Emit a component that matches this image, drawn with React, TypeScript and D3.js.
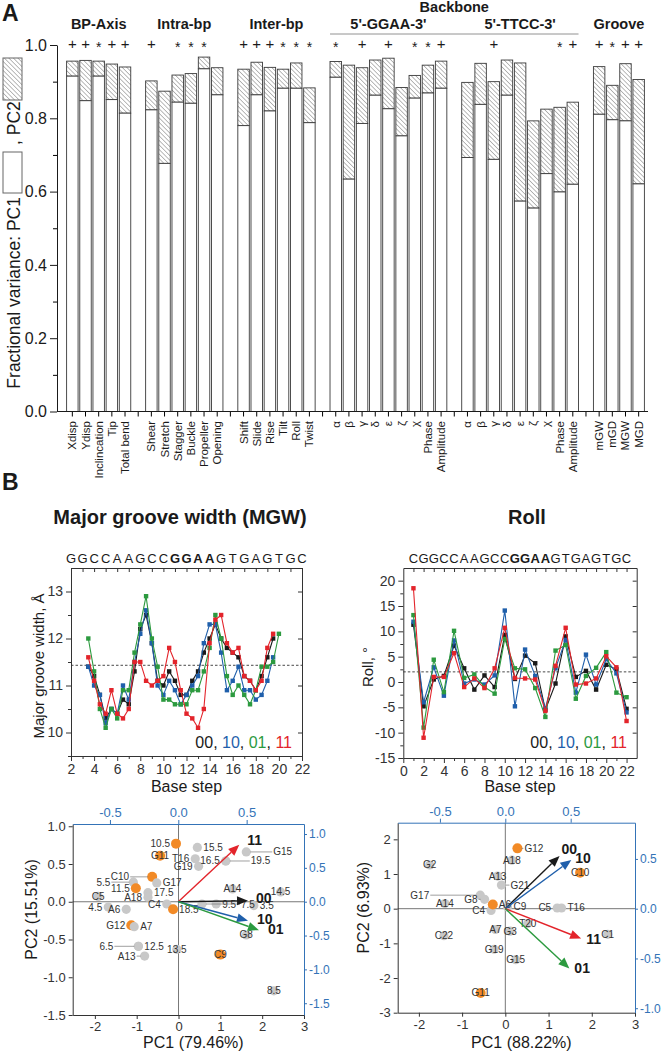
import React, { useEffect, useRef } from "react";
import * as d3 from "d3";

const FONT = "'Liberation Sans', Arial, Helvetica, sans-serif";
const AXIS_BLUE = "#3473b7";
const COLORS: Record<string, string> = { "00": "#1a1a1a", "10": "#1f5fab", "01": "#2c9a3f", "11": "#e3242b" };

// ---------- panel A: fractional variance per parameter group
const groupNames = ["BP-Axis", "Intra-bp", "Inter-bp", "5'-GGAA-3'", "5'-TTCC-3'", "Groove"];
const groupParams = [
  ["Xdisp", "Ydisp", "Inclincation", "Tip", "Total bend"],
  ["Shear", "Stretch", "Stagger", "Buckle", "Propeller", "Opening"],
  ["Shift", "Slide", "Rise", "Tilt", "Roll", "Twist"],
  ["α", "β", "γ", "δ", "ε", "ζ", "χ", "Phase", "Amplitude"],
  ["α", "β", "γ", "δ", "ε", "ζ", "χ", "Phase", "Amplitude"],
  ["mGW", "mGD", "MGW", "MGD"],
];
const groupPC1 = [
  [0.915, 0.848, 0.915, 0.851, 0.814],
  [0.823, 0.677, 0.844, 0.841, 0.935, 0.864],
  [0.78, 0.864, 0.82, 0.882, 0.882, 0.788],
  [0.912, 0.634, 0.786, 0.863, 0.826, 0.752, 0.855, 0.869, 0.882],
  [0.693, 0.838, 0.688, 0.863, 0.574, 0.555, 0.649, 0.599, 0.62],
  [0.811, 0.796, 0.793, 0.621],
];
// PC1 + PC2
const groupPC12 = [
  [0.956, 0.958, 0.956, 0.948, 0.94],
  [0.902, 0.874, 0.918, 0.922, 0.967, 0.938],
  [0.934, 0.953, 0.939, 0.934, 0.951, 0.883],
  [0.955, 0.945, 0.938, 0.959, 0.964, 0.884, 0.917, 0.945, 0.956],
  [0.898, 0.95, 0.9, 0.959, 0.951, 0.793, 0.825, 0.83, 0.844],
  [0.941, 0.89, 0.949, 0.906],
];
const groupSig = [
  ["+", "+", "*", "+", "+"],
  ["+", "", "*", "*", "*", ""],
  ["+", "+", "+", "*", "*", "*"],
  ["*", "", "+", "", "+", "", "*", "*", "+"],
  ["", "", "+", "", "", "", "", "*", "+"],
  ["+", "*", "+", "+"],
];
const yTicksA = [0, 0.2, 0.4, 0.6, 0.8, 1.0];

// ---------- panel B line charts
const mgwSeq = "GGCCAAGCCGGAAGTGAGTGC";
const rollSeq = "CGGCCAAGCCGGAAGTGAGTGC";
const mgwSteps = [3.5, 4, 4.5, 5, 5.5, 6, 6.5, 7, 7.5, 8, 8.5, 9, 9.5, 10, 10.5, 11, 11.5, 12, 12.5, 13, 13.5, 14, 14.5, 15, 15.5, 16, 16.5, 17, 17.5, 18, 18.5, 19, 19.5, 20];
const mgw00 = [11.4, 11.2, 10.8, 10.3, 10.5, 10.4, 10.7, 10.6, 11.3, 12.2, 12.5, 11.9, 11.1, 11.0, 11.3, 11.1, 10.8, 10.8, 11.1, 11.3, 11.7, 12.0, 12.3, 12.0, 11.8, 11.7, 11.6, 11.2, 11.1, 10.9, 11.2, 11.6, 12.0];
const mgw10 = [11.4, 11.0, 10.8, 10.2, 10.5, 10.4, 11.0, 10.7, 11.5, 12.1, 12.6, 11.9, 11.0, 10.8, 11.1, 10.9, 10.6, 10.8, 11.0, 11.2, 11.9, 12.3, 12.3, 11.7, 10.9, 11.1, 11.4, 10.9, 10.9, 10.7, 10.8, 11.1, 11.6];
const mgw01 = [12.0, 11.3, 10.5, 10.1, 10.5, 10.3, 10.9, 10.9, 11.7, 12.3, 12.9, 12.0, 11.4, 10.7, 10.7, 10.6, 10.6, 10.6, 10.9, 10.9, 11.3, 11.8, 12.5, 12.0, 11.2, 10.8, 11.0, 10.8, 10.6, 10.9, 11.4, 11.4, 11.5, 12.1];
const mgw11 = [11.6, 11.1, 10.6, 10.4, 10.9, 10.4, 10.3, 10.5, 11.5, 11.5, 11.1, 11.0, 11.1, 11.2, 11.8, 11.5, 10.9, 10.4, 10.3, 10.1, 10.5, 11.9, 12.4, 12.5, 11.9, 11.7, 11.8, 11.2, 11.1, 10.9, 11.1, 11.8, 12.1];
const mgwMean = 11.43;

const rollSteps = [1, 2, 3, 4, 5, 6, 7, 8, 9, 10, 11, 12, 13, 14, 15, 16, 17, 18, 19, 20, 21, 22];
const roll00 = [11.3, -4.8, 0.5, 1.2, 7.2, 2.7, -1.5, 1.3, -1.0, 9.3, 0.6, 5.2, 3.7, -5.5, -0.3, 9.0, 1.0, 2.2, -1.5, 3.4, 2.5, -5.3];
const roll10 = [11.9, -4.0, 2.9, -2.7, 8.2, -0.3, 0.5, -0.5, 1.3, 14.1, -4.8, 6.4, 1.2, -5.2, 2.7, 8.3, -2.1, 5.4, -0.5, 4.5, 1.7, -6.0];
const roll01 = [13.2, -9.0, 4.4, -2.0, 10.1, 0.8, 1.5, -1.0, -2.3, 8.5, 2.7, 2.5, -1.2, -6.9, 6.2, 7.3, -3.3, 1.2, 2.8, 5.9, -2.1, -3.0];
const roll11 = [18.5, -11.0, 1.0, 1.0, 5.7, -1.0, 0.7, -1.2, 2.7, 10.7, 0.8, 0.7, 0.5, -5.7, 3.2, 10.7, -0.5, -0.3, 0.7, 5.1, 2.9, -7.7];
const rollMean = 2.0;

// ---------- panel B biplots
const mgwPtNames = ["10.5", "G11", "15.5", "T16", "G19", "16.5", "19.5", "G15", "C10", "G17", "5.5", "11.5", "17.5", "A18", "C5", "A14", "14.5", "4.5", "A6", "C4", "18.5", "9.5", "7.5", "3.5", "G12", "A7", "G8", "6.5", "12.5", "A13", "13.5", "C9", "8.5"];
const mgwPtPC1 = [-0.06, -0.44, 0.45, 0.4, 0.48, 1.13, 1.13, 1.62, -0.63, -0.52, -1.08, -1.02, -0.73, -0.73, -1.92, 1.29, 2.44, -1.68, -1.25, -0.28, -0.13, 0.9, 0.56, 1.8, -1.13, -1.06, 1.62, -0.96, -0.96, -0.81, -0.04, 1.0, 2.28];
const mgwPtPC2 = [0.77, 0.61, 0.72, 0.57, 0.47, 0.54, 0.54, 0.66, 0.33, 0.25, 0.26, 0.18, 0.12, 0.06, 0.07, 0.17, 0.13, -0.07, -0.1, -0.03, -0.1, -0.03, -0.03, -0.05, -0.31, -0.33, -0.44, -0.59, -0.59, -0.72, -0.63, -0.7, -1.18];
const mgwPtOrange = [1, 1, 0, 0, 0, 0, 0, 0, 1, 0, 0, 1, 0, 0, 0, 0, 0, 0, 0, 0, 1, 0, 0, 0, 1, 0, 0, 0, 0, 0, 0, 1, 0];
const mgwPtPlace = ["l", "c", "r", "l", "l", "l", "R24", "R26", "L22", "r", "L22", "l", "r", "l", "c", "c", "c", "l", "l", "l", "r", "r", "R38", "r", "l", "r", "c", "L24", "r", "L8", "c", "c", "c"];
const mgwLoadNames = ["11", "00", "10", "01"];
const mgwLoadX = [0.446, 0.51, 0.51, 0.59];
const mgwLoadY = [0.84, 0.015, -0.28, -0.42];

const rollPtNames = ["G12", "A18", "G2", "A13", "G21", "C10", "G17", "G8", "A14", "C4", "A6", "C9", "C5", "T16", "T20", "A7", "G3", "C22", "C1", "G19", "G15", "G11"];
const rollPtPC1 = [0.28, 0.15, -1.75, -0.18, -0.09, 1.73, -0.58, -0.48, -1.4, -0.33, -0.29, 0.05, 1.2, 1.3, 0.52, -0.23, 0.11, -1.42, 2.37, -0.26, 0.24, -0.57];
const rollPtPC2 = [1.74, 1.4, 1.26, 0.94, 0.68, 1.04, 0.39, 0.27, 0.15, -0.05, 0.12, 0.05, 0.02, 0.02, -0.43, -0.6, -0.65, -0.78, -0.74, -1.17, -1.47, -2.43];
const rollPtOrange = [1, 0, 0, 0, 0, 1, 0, 0, 0, 0, 1, 0, 0, 0, 0, 0, 0, 0, 0, 0, 0, 1];
const rollPtPlace = ["R6", "c", "c", "c", "R8", "c", "L50", "L6", "c", "l", "r", "r", "l", "r", "c", "c", "c", "c", "c", "c", "c", "c"];
const rollLoadNames = ["00", "10", "11", "01"];
const rollLoadX = [0.415, 0.505, 0.58, 0.49];
const rollLoadY = [0.53, 0.49, -0.3, -0.6];

const minus = (s: string) => s.replace("−", "-");

function txt(g: any, x: number, y: number, s: string, size: number, o: any = {}) {
  const t = g
    .append("text")
    .attr("x", x)
    .attr("y", y)
    .attr("font-size", size)
    .attr("font-family", FONT)
    .attr("fill", o.fill || "#1a1a1a")
    .text(s);
  if (o.anchor) t.attr("text-anchor", o.anchor);
  if (o.weight) t.attr("font-weight", o.weight);
  if (o.rotate) t.attr("transform", `rotate(${o.rotate},${x},${y})`);
  return t;
}

function styleAxis(a: any, size: number, color = "#1a1a1a") {
  a.attr("font-family", FONT).attr("font-size", size);
  a.selectAll("line").attr("stroke", color);
  a.selectAll("path").attr("stroke", color);
  a.selectAll("text").attr("fill", color);
}

function drawPanelA(svg: any) {
  const g = svg.append("g");
  const defs = svg.append("defs");
  const pat = defs
    .append("pattern")
    .attr("id", "hatch")
    .attr("patternUnits", "userSpaceOnUse")
    .attr("width", 3.2)
    .attr("height", 3.2)
    .attr("patternTransform", "rotate(-45)");
  pat.append("rect").attr("width", 3.2).attr("height", 3.2).attr("fill", "#fff");
  pat.append("line").attr("x1", 0).attr("y1", 0).attr("x2", 0).attr("y2", 3.2).attr("stroke", "#555").attr("stroke-width", 0.8);

  const slots: any[] = [];
  groupParams.forEach((labs, gi) => {
    if (gi > 0) slots.push({ key: "gap" + gi, label: "", g: -1, i: -1 });
    labs.forEach((l, i) => slots.push({ key: gi + "-" + i, label: l, g: gi, i }));
  });
  const x = d3.scaleBand().domain(slots.map((s) => s.key)).range([64.9, 646.1]).padding(0.13);
  const y = d3.scaleLinear().domain([0, 1]).range([411.5, 45]);
  const cx = (k: string) => (x(k) as number) + x.bandwidth() / 2;

  txt(g, 2, 21, "A", 23, { weight: "bold" });

  // bars
  slots
    .filter((s) => s.g >= 0)
    .forEach((s) => {
      const p1 = groupPC1[s.g][s.i];
      const tot = groupPC12[s.g][s.i];
      g.append("rect")
        .attr("x", x(s.key))
        .attr("y", y(tot))
        .attr("width", x.bandwidth())
        .attr("height", y(p1) - y(tot))
        .attr("fill", "url(#hatch)")
        .attr("stroke", "#3a3a3a")
        .attr("stroke-width", 0.9);
      g.append("rect")
        .attr("x", x(s.key))
        .attr("y", y(p1))
        .attr("width", x.bandwidth())
        .attr("height", y(0) - y(p1))
        .attr("fill", "#fff")
        .attr("stroke", "#3a3a3a")
        .attr("stroke-width", 0.9);
      const m = groupSig[s.g][s.i];
      if (m === "+") txt(g, cx(s.key), 49, "+", 15, { anchor: "middle" });
      if (m === "*") txt(g, cx(s.key), 52, "*", 14, { anchor: "middle" });
    });

  // group headers
  groupNames.forEach((name, gi) => {
    const n = groupParams[gi].length;
    const c = (cx(gi + "-0") + cx(gi + "-" + (n - 1))) / 2;
    txt(g, c, 29, name, 14.5, { anchor: "middle", weight: "bold" });
  });
  const bbStart = x("3-0") as number;
  const bbEnd = (x("4-8") as number) + x.bandwidth();
  txt(g, (bbStart + bbEnd) / 2, 12, "Backbone", 14.5, { anchor: "middle", weight: "bold" });
  g.append("line").attr("x1", bbStart).attr("x2", bbEnd).attr("y1", 34).attr("y2", 34).attr("stroke", "#777").attr("stroke-width", 0.8);

  // y axis
  const ya = g
    .append("g")
    .attr("transform", "translate(57,0)")
    .call(d3.axisLeft(y).tickValues(yTicksA).tickSize(7).tickPadding(3).tickSizeOuter(0).tickFormat((d: any) => d3.format(".1f")(d)));
  styleAxis(ya, 16);
  g.append("g")
    .attr("transform", "translate(57,0)")
    .call(d3.axisLeft(y).tickValues([0.1, 0.3, 0.5, 0.7, 0.9]).tickSize(4).tickFormat(() => "").tickSizeOuter(0))
    .call((a: any) => a.select(".domain").remove());

  // x axis
  const xa = g
    .append("g")
    .attr("transform", "translate(0,411.5)")
    .call(d3.axisBottom(x).tickSize(5).tickSizeOuter(0).tickFormat(() => ""));
  xa.select(".domain").remove();
  g.append("line").attr("x1", 57).attr("x2", 648).attr("y1", 411.5).attr("y2", 411.5).attr("stroke", "#1a1a1a");
  slots.forEach((s) => {
    if (!s.label) return;
    txt(g, cx(s.key) + 4, 421, s.label, 11.5, { anchor: "end", rotate: -90 });
  });

  // y label with legend boxes
  txt(g, 20, 197, "Fractional variance: PC1", 17.5, { anchor: "end", rotate: -90 });
  g.append("rect").attr("x", 3).attr("y", 152).attr("width", 19).attr("height", 41).attr("fill", "#fff").attr("stroke", "#666");
  txt(g, 20, 145, ", PC2", 17.5, { anchor: "start", rotate: -90 });
  g.append("rect").attr("x", 3).attr("y", 58).attr("width", 19).attr("height", 42).attr("fill", "url(#hatch)").attr("stroke", "#666");
}

function drawLineChart(svg: any, c: any) {
  const g = svg.append("g");
  const x = d3.scaleLinear().domain(c.xDom).range([c.x0, c.x1]);
  const y = d3.scaleLinear().domain(c.yDom).range([c.y1, c.y0]);

  txt(g, c.titleX, 524, c.title, 20, { anchor: "middle", weight: "bold" });

  // sequence on the top axis
  c.seq.split("").forEach((ch: string, i: number) => {
    const pos = c.seqStart + i;
    const bold = i >= c.boldFrom && i < c.boldFrom + 4;
    txt(g, x(pos), 563, ch, 13, { anchor: "middle", weight: bold ? "bold" : "normal" });
  });

  // mean reference
  g.append("line")
    .attr("x1", c.x0)
    .attr("x2", c.x1)
    .attr("y1", y(c.refY))
    .attr("y2", y(c.refY))
    .attr("stroke", "#333")
    .attr("stroke-width", 0.9)
    .attr("stroke-dasharray", "2.5,2");

  // axes
  const left = g
    .append("g")
    .attr("transform", `translate(${c.x0},0)`)
    .call(d3.axisLeft(y).tickValues(c.yMajor).tickSize(5).tickPadding(3).tickSizeOuter(0).tickFormat((d: any) => minus(String(d))));
  styleAxis(left, 14, "#333");
  g.append("g")
    .attr("transform", `translate(${c.x0},0)`)
    .call(d3.axisLeft(y).tickValues(c.yMinor).tickSize(3).tickFormat(() => ""))
    .call((a: any) => a.select(".domain").remove())
    .selectAll("line")
    .attr("stroke", "#333");
  g.append("g")
    .attr("transform", `translate(${c.x1},0)`)
    .call(d3.axisRight(y).tickValues(c.yMajor).tickSize(-4).tickSizeOuter(0).tickFormat(() => ""))
    .call((a: any) => a.selectAll("line,path").attr("stroke", "#333"));
  const bottom = g
    .append("g")
    .attr("transform", `translate(0,${c.y1})`)
    .call(d3.axisBottom(x).tickValues(c.xMajor).tickSize(5).tickPadding(3).tickSizeOuter(0).tickFormat((d: any) => String(d)));
  styleAxis(bottom, 14, "#333");
  g.append("g")
    .attr("transform", `translate(0,${c.y1})`)
    .call(d3.axisBottom(x).tickValues(c.xMinor).tickSize(3).tickFormat(() => ""))
    .call((a: any) => a.select(".domain").remove())
    .selectAll("line")
    .attr("stroke", "#333");
  g.append("g")
    .attr("transform", `translate(0,${c.y0})`)
    .call(d3.axisTop(x).tickValues(c.topTicks).tickSize(-4).tickSizeOuter(0).tickFormat(() => ""))
    .call((a: any) => a.selectAll("line,path").attr("stroke", "#333"));

  // series
  c.series.forEach((s: any) => {
    const pts = s.values.map((v: number, i: number) => [c.xs[i], v]);
    g.append("path")
      .datum(pts)
      .attr("fill", "none")
      .attr("stroke", COLORS[s.key])
      .attr("stroke-width", 1.1)
      .attr("d", d3.line().x((d: any) => x(d[0])).y((d: any) => y(d[1])));
    g.selectAll(null)
      .data(pts)
      .enter()
      .append("rect")
      .attr("x", (d: any) => x(d[0]) - 2.2)
      .attr("y", (d: any) => y(d[1]) - 2.2)
      .attr("width", 4.4)
      .attr("height", 4.4)
      .attr("fill", COLORS[s.key]);
  });

  // legend text
  const lt = txt(g, c.legendX, 748, "", 16, { anchor: "end" });
  ["00", "10", "01", "11"].forEach((k, i) => {
    lt.append("tspan").attr("fill", COLORS[k]).text(k);
    if (i < 3) lt.append("tspan").attr("fill", "#1a1a1a").text(", ");
  });

  txt(g, (c.x0 + c.x1) / 2, 792, "Base step", 16, { anchor: "middle" });
  txt(g, c.yLabelX, (c.y0 + c.y1) / 2 + 4, c.yLabel, 15, { anchor: "middle", rotate: -90 });
}

function drawBiplot(svg: any, c: any) {
  const g = svg.append("g");
  const x = d3.scaleLinear().domain(c.xDom).range([c.x0, c.x1]);
  const y = d3.scaleLinear().domain(c.yDom).range([c.y1, c.y0]);
  const lx = d3.scaleLinear().domain(c.lxDom).range([c.x0, c.x1]);
  const ly = d3.scaleLinear().domain(c.lyDom).range([c.y1, c.y0]);

  g.append("line").attr("x1", x(0)).attr("x2", x(0)).attr("y1", c.y0).attr("y2", c.y1).attr("stroke", "#777").attr("stroke-width", 1);
  g.append("line").attr("x1", c.x0).attr("x2", c.x1).attr("y1", y(0)).attr("y2", y(0)).attr("stroke", "#777").attr("stroke-width", 1);

  // score points
  const pts = c.names.map((n: string, i: number) => ({ n, px: x(c.pc1[i]), py: y(c.pc2[i]), o: c.orange[i], p: c.place[i] }));
  pts.forEach((d: any) => {
    g.append("circle").attr("cx", d.px).attr("cy", d.py).attr("r", d.o ? 5 : 4.6).attr("fill", d.o ? "#f28a26" : "#c8c8c8");
  });
  pts.forEach((d: any) => {
    const fs = 10;
    const by = d.py + 3.5;
    const p = d.p as string;
    if (p === "c") txt(g, d.px, by, d.n, fs, { anchor: "middle", fill: "#333" });
    else if (p === "l") txt(g, d.px - 6, by, d.n, fs, { anchor: "end", fill: "#333" });
    else if (p === "r") txt(g, d.px + 6, by, d.n, fs, { anchor: "start", fill: "#333" });
    else {
      const len = +p.slice(1);
      const dir = p[0] === "R" ? 1 : -1;
      g.append("line")
        .attr("x1", d.px + dir * 4)
        .attr("x2", d.px + dir * len)
        .attr("y1", d.py)
        .attr("y2", d.py)
        .attr("stroke", "#777")
        .attr("stroke-width", 0.7);
      txt(g, d.px + dir * (len + 1), by, d.n, fs, { anchor: dir > 0 ? "start" : "end", fill: "#333" });
    }
  });

  // loading arrows
  c.lNames.forEach((n: string, i: number) => {
    const x0 = lx(0), y0 = ly(0);
    const x1 = lx(c.lX[i]), y1 = ly(c.lY[i]);
    const ang = Math.atan2(y1 - y0, x1 - x0);
    const L = 11, W = 4.5;
    const bx = x1 - L * Math.cos(ang), by = y1 - L * Math.sin(ang);
    g.append("line").attr("x1", x0).attr("y1", y0).attr("x2", bx).attr("y2", by).attr("stroke", COLORS[n]).attr("stroke-width", 1.4);
    const pts2 = [
      [x1, y1],
      [bx - W * Math.sin(ang), by + W * Math.cos(ang)],
      [bx + W * Math.sin(ang), by - W * Math.cos(ang)],
    ];
    g.append("polygon").attr("points", pts2.map((q) => q.join(",")).join(" ")).attr("fill", COLORS[n]);
    txt(g, x1 + c.lDx[i], y1 + c.lDy[i], n, 14, { weight: "bold" });
  });

  // axes
  const fmt = (d: any) => minus(c.yFmt(d));
  const left = g.append("g").attr("transform", `translate(${c.x0},0)`).call(d3.axisLeft(y).tickValues(c.yTicks).tickSize(4).tickPadding(3).tickSizeOuter(0).tickFormat(fmt));
  styleAxis(left, 13, "#333");
  const bottom = g
    .append("g")
    .attr("transform", `translate(0,${c.y1})`)
    .call(d3.axisBottom(x).tickValues(c.xTicks).tickSize(4).tickPadding(3).tickSizeOuter(0).tickFormat((d: any) => minus(String(d))));
  styleAxis(bottom, 13, "#333");
  const top = g
    .append("g")
    .attr("transform", `translate(0,${c.y0})`)
    .call(d3.axisTop(lx).tickValues(c.lxTicks).tickSize(4).tickPadding(3).tickSizeOuter(0).tickFormat((d: any) => minus(d3.format(".1f")(d))));
  styleAxis(top, 13, AXIS_BLUE);
  const right = g
    .append("g")
    .attr("transform", `translate(${c.x1},0)`)
    .call(d3.axisRight(ly).tickValues(c.lyTicks).tickSize(3).tickPadding(2).tickSizeOuter(0).tickFormat((d: any) => minus(d3.format(".1f")(d))));
  styleAxis(right, 12, AXIS_BLUE);

  txt(g, (c.x0 + c.x1) / 2 + 5, 1048, c.xLabel, 16, { anchor: "middle" });
  txt(g, c.yLabelX, (c.y0 + c.y1) / 2 - 10, c.yLabel, 16, { anchor: "middle", rotate: -90 });
}

export default function App() {
  const ref = useRef<SVGSVGElement>(null);

  useEffect(() => {
    const svg = d3.select(ref.current);
    svg.selectAll("*").remove();
    svg.append("rect").attr("width", 661).attr("height", 1054).attr("fill", "#fff");

    drawPanelA(svg);

    txt(svg, 2, 490, "B", 23, { weight: "bold" });

    drawLineChart(svg, {
      x0: 71, x1: 302, y0: 568, y1: 756,
      xDom: [2, 22], yDom: [9.5, 13.5],
      xMajor: d3.range(2, 23, 2), xMinor: d3.range(3, 22, 2), topTicks: d3.range(2, 23, 1),
      yMajor: [10, 11, 12, 13], yMinor: [9.5, 10.5, 11.5, 12.5],
      seq: mgwSeq, seqStart: 2, boldFrom: 9,
      xs: mgwSteps,
      series: [
        { key: "00", values: mgw00 },
        { key: "10", values: mgw10 },
        { key: "01", values: mgw01 },
        { key: "11", values: mgw11 },
      ],
      refY: mgwMean,
      title: "Major groove width (MGW)", titleX: 180,
      yLabel: "Major groove width, Å", yLabelX: 44,
      legendX: 292,
    });

    drawLineChart(svg, {
      x0: 403.3, x1: 636.7, y0: 568, y1: 758,
      xDom: [0, 23], yDom: [-15, 22.5],
      xMajor: d3.range(0, 23, 2), xMinor: d3.range(1, 23, 2), topTicks: d3.range(1, 23, 1),
      yMajor: [-15, -10, -5, 0, 5, 10, 15, 20], yMinor: [-12.5, -7.5, -2.5, 2.5, 7.5, 12.5, 17.5],
      seq: rollSeq, seqStart: 1, boldFrom: 10,
      xs: rollSteps,
      series: [
        { key: "00", values: roll00 },
        { key: "10", values: roll10 },
        { key: "01", values: roll01 },
        { key: "11", values: roll11 },
      ],
      refY: rollMean,
      title: "Roll", titleX: 527,
      yLabel: "Roll, °", yLabelX: 373,
      legendX: 627,
    });

    drawBiplot(svg, {
      x0: 72.7, x1: 304, y0: 824, y1: 1015,
      xDom: [-2.53, 3], yDom: [-1.5, 1.03],
      lxDom: [-0.7725, 0.9195], lyDom: [-1.674, 1.148],
      xTicks: [-2, -1, 0, 1, 2, 3], yTicks: [-1.5, -1.0, -0.5, 0, 0.5, 1.0], yFmt: d3.format(".1f"),
      lxTicks: [-0.5, 0, 0.5], lyTicks: [-1.5, -1.0, -0.5, 0, 0.5, 1.0],
      names: mgwPtNames, pc1: mgwPtPC1, pc2: mgwPtPC2, orange: mgwPtOrange, place: mgwPtPlace,
      lNames: mgwLoadNames, lX: mgwLoadX, lY: mgwLoadY,
      lDx: [8, 8, 9, 9], lDy: [0, 2, 3, 4],
      xLabel: "PC1 (79.46%)", yLabel: "PC2 (15.51%)", yLabelX: 37,
    });

    drawBiplot(svg, {
      x0: 397.7, x1: 635, y0: 822.7, y1: 1012.7,
      xDom: [-2.49, 3], yDom: [-3, 2.48],
      lxDom: [-0.823, 0.992], lyDom: [-1.045, 0.864],
      xTicks: [-2, -1, 0, 1, 2, 3], yTicks: [-3, -2, -1, 0, 1, 2], yFmt: d3.format("d"),
      lxTicks: [-0.5, 0, 0.5], lyTicks: [-1.0, -0.5, 0, 0.5],
      names: rollPtNames, pc1: rollPtPC1, pc2: rollPtPC2, orange: rollPtOrange, place: rollPtPlace,
      lNames: rollLoadNames, lX: rollLoadX, lY: rollLoadY,
      lDx: [2, 4, 5, 5], lDy: [-2, 3, 5, 5],
      xLabel: "PC1 (88.22%)", yLabel: "PC2 (6.93%)", yLabelX: 369,
    });
  }, []);

  return <svg ref={ref} width={661} height={1054} style={{ position: "absolute", left: 0, top: 0 }} />;
}
